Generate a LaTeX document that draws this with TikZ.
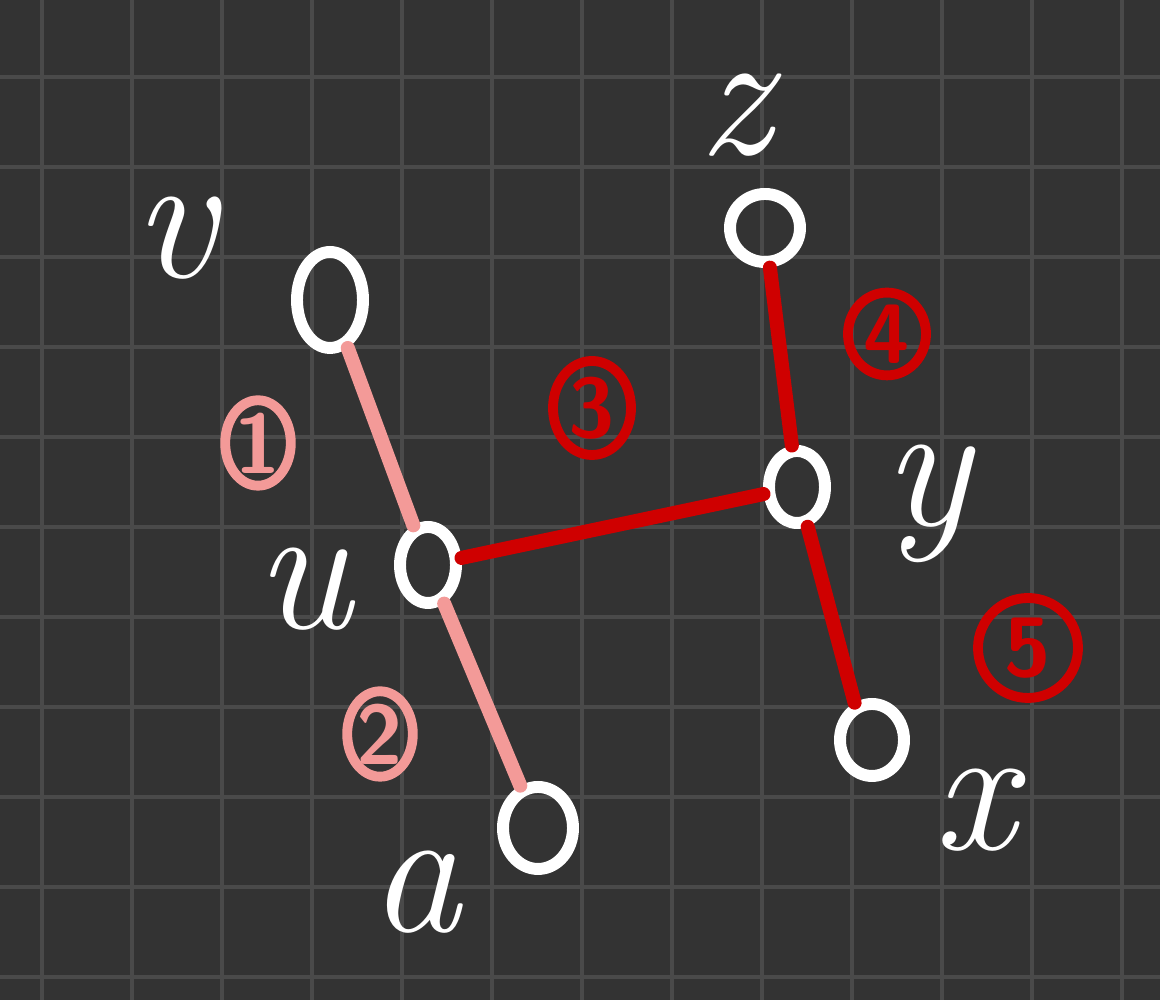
\documentclass[tikz,border=0pt]{standalone}
\usepackage{fontspec}
\usepackage{tikz}
\usetikzlibrary{shapes.geometric}
\definecolor{board}{HTML}{333333}
\definecolor{gridgray}{HTML}{4A4A4A}
\definecolor{chalkpink}{HTML}{F39A98}
\definecolor{chalkred}{HTML}{CF0000}
\tikzset{basic vertex/.style={draw,ellipse,inner sep=0pt}}
\tikzset{vertex/.style={basic vertex,white,line width=3.4pt}}
\tikzset{edge/.style={draw,
                      line width=4pt,
                      line cap=round}}
\tikzset{tag/.style={draw,ellipse,inner sep=0pt,line width=2.8pt,
                     font=\fontsize{24}{24}\selectfont\sffamily\bfseries}}
\tikzset{name label/.style={white,inner sep=0pt,
                            font=\fontsize{52}{52}\selectfont\itshape}}

\begin{document}
\begin{tikzpicture}[x=1cm,y=1cm]

  % board
  \fill[board] (0,0) rectangle (11.6,10);
  \useasboundingbox (0,0) rectangle (11.6,10);
  \foreach \x in {0.42,1.32,...,11.3}
    \draw[gridgray,line width=1.2pt] (\x,0) -- (\x,10);
  \foreach \y in {0.23,1.13,...,9.3}
    \draw[gridgray,line width=1.2pt] (0,\y) -- (11.6,\y);

  % vertices
  \foreach \n/\x/\y/\w/\h in
  {
  V/3.30/7.00/0.66/0.96,
  U/4.28/4.35/0.56/0.76,
  A/5.38/1.72/0.70/0.82,
  Z/7.65/7.72/0.70/0.68,
  Y/7.97/5.13/0.56/0.72,
  X/8.72/2.60/0.64/0.72
  }
  {
  \node [vertex,minimum width=\w cm,minimum height=\h cm] (\n) at (\x,\y) {};
  }

  % vertex names
  \foreach \n/\x/\y/\l in
  {
  Lv/1.75/7.62/v,
  Lz/7.35/8.85/z,
  Lu/3.03/4.11/u,
  Ly/9.27/4.96/y,
  La/4.15/1.08/a,
  Lx/9.75/1.90/x
  }
  {
  \node [name label] (\n) at (\x,\y) {\l};
  }

  % edges
  \path [edge,chalkpink] (V) -- (U);
  \path [edge,chalkpink] (U) -- (A);
  \path [edge,chalkred] (U) -- (Y);
  \path [edge,chalkred] (Z) -- (Y);
  \path [edge,chalkred] (Y.-75) -- (X.115);

  % edge order
  \foreach \n/\x/\y/\w/\h/\c/\t in
  {
  T1/2.58/5.57/0.58/0.80/chalkpink/1,
  T2/3.80/2.66/0.56/0.74/chalkpink/2,
  T3/5.92/5.92/0.78/0.94/chalkred/3,
  T4/8.87/6.66/0.78/0.74/chalkred/4,
  T5/10.28/3.52/1.00/1.00/chalkred/5
  }
  {
  \node [tag,draw=\c,text=\c,minimum width=\w cm,minimum height=\h cm] (\n) at (\x,\y) {\t};
  }

\end{tikzpicture}
\end{document}
